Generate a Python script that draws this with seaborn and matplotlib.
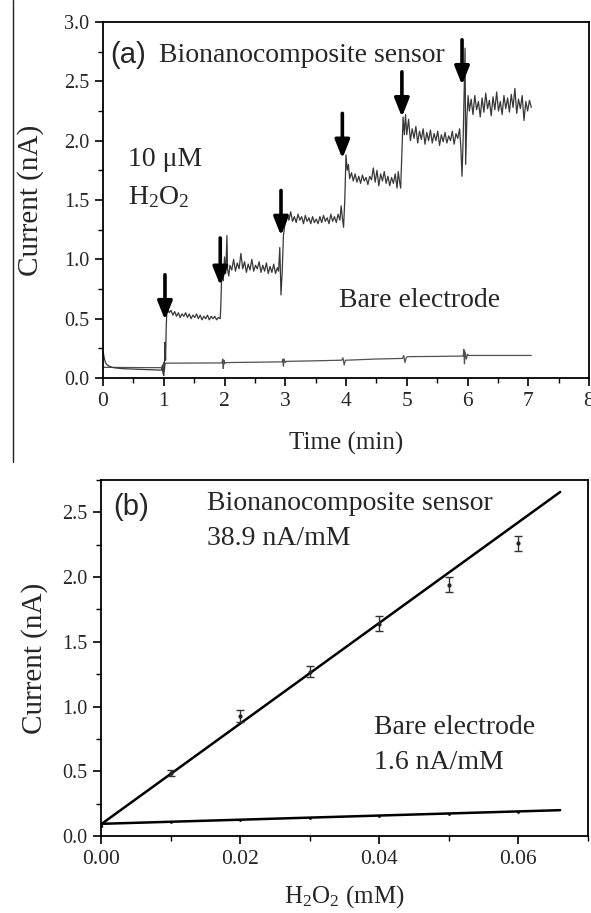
import matplotlib
matplotlib.use("Agg")
import matplotlib.pyplot as plt
import seaborn as sns
import numpy as np
import pandas as pd
from matplotlib.lines import Line2D
from matplotlib.ticker import MultipleLocator

# Estilo
sns.set_theme(style="ticks")
plt.rcParams['font.family'] = 'serif'
plt.rcParams['font.serif'] = ['Liberation Serif', 'DejaVu Serif']
plt.rcParams['mathtext.fontset'] = 'custom'
plt.rcParams['mathtext.rm'] = 'Liberation Serif'
plt.rcParams['mathtext.it'] = 'Liberation Serif:italic'

# ---- datos (a): amperometría ----
sensor_t = [0.00, 0.02, 0.04, 0.07, 0.10, 0.15, 0.20, 0.30, 0.40, 0.50, 0.60, 0.70, 0.80, 0.90, 0.96, 0.98, 0.99, 1.00, 1.01, 1.02, 1.03, 1.04, 1.05, 1.07,
            1.09, 1.12, 1.15, 1.18, 1.21, 1.24, 1.27, 1.30, 1.33, 1.36, 1.39, 1.42, 1.45, 1.48, 1.51, 1.54, 1.57, 1.60, 1.63, 1.66, 1.69, 1.72, 1.75, 1.78, 1.81, 1.84, 1.87, 1.90, 1.93, 1.94, 1.95, 1.97, 1.98, 2.00, 2.02, 2.04, 2.05, 2.07,
            2.09, 2.12, 2.15, 2.18, 2.21, 2.24, 2.27, 2.30, 2.33, 2.36, 2.39, 2.42, 2.45, 2.48, 2.51, 2.54, 2.57, 2.60, 2.63, 2.66, 2.69, 2.72, 2.75, 2.78, 2.81, 2.84, 2.87, 2.89, 2.91, 2.93, 2.95, 2.97, 2.99, 3.01,
            3.03, 3.06, 3.09, 3.12, 3.15, 3.18, 3.21, 3.24, 3.27, 3.30, 3.33, 3.36, 3.39, 3.42, 3.45, 3.48, 3.51, 3.54, 3.57, 3.60, 3.63, 3.66, 3.69, 3.72, 3.75, 3.78, 3.81, 3.84, 3.87, 3.90, 3.92, 3.94, 3.96, 3.98, 4.00, 4.02,
            4.04, 4.06, 4.09, 4.12, 4.15, 4.18, 4.21, 4.24, 4.27, 4.30, 4.33, 4.36, 4.39, 4.42, 4.45, 4.48, 4.51, 4.54, 4.57, 4.60, 4.63, 4.66, 4.69, 4.72, 4.75, 4.78, 4.81, 4.84, 4.86, 4.88, 4.90, 4.92, 4.94, 4.96, 4.98,
            5.00, 5.03, 5.06, 5.09, 5.12, 5.15, 5.18, 5.21, 5.24, 5.27, 5.30, 5.33, 5.36, 5.39, 5.42, 5.45, 5.48, 5.51, 5.54, 5.57, 5.60, 5.63, 5.66, 5.69, 5.72, 5.75, 5.78, 5.81, 5.84, 5.87, 5.89, 5.91, 5.93, 5.95, 5.96, 5.97, 5.99, 6.01,
            6.03, 6.06, 6.09, 6.12, 6.15, 6.18, 6.21, 6.24, 6.27, 6.30, 6.33, 6.36, 6.39, 6.42, 6.45, 6.48, 6.51, 6.54, 6.57, 6.60, 6.63, 6.66, 6.69, 6.72, 6.75, 6.78, 6.81, 6.84, 6.87, 6.90, 6.93, 6.96, 6.99, 7.02, 7.05]
sensor_i = [0.23, 0.17, 0.13, 0.11, 0.10, 0.09, 0.085, 0.08, 0.077, 0.075, 0.073, 0.071, 0.069, 0.067, 0.066, 0.10, 0.04, 0.02, 0.08, 0.30, 0.15, 0.42, 0.55, 0.58,
            0.55, 0.57, 0.53, 0.56, 0.52, 0.55, 0.51, 0.54, 0.52, 0.55, 0.51, 0.54, 0.50, 0.53, 0.51, 0.54, 0.50, 0.53, 0.49, 0.52, 0.50, 0.53, 0.49, 0.52, 0.50, 0.52, 0.49, 0.51, 0.50, 0.62, 0.80, 0.95, 0.82, 1.02, 0.88, 1.20, 0.92, 0.86,
            0.95, 0.91, 1.00, 0.90, 0.97, 0.92, 1.05, 0.92, 0.98, 0.89, 0.96, 0.91, 1.00, 0.90, 0.95, 0.92, 0.98, 0.89, 0.95, 0.90, 0.97, 0.88, 0.94, 0.89, 0.96, 0.88, 0.93, 0.90, 1.10, 0.70, 0.90, 1.20, 1.28, 1.32,
            1.38, 1.33, 1.40, 1.32, 1.36, 1.31, 1.38, 1.33, 1.36, 1.30, 1.37, 1.32, 1.35, 1.30, 1.36, 1.31, 1.34, 1.30, 1.36, 1.31, 1.37, 1.32, 1.35, 1.30, 1.38, 1.32, 1.36, 1.31, 1.38, 1.33, 1.45, 1.35, 1.27, 1.50, 1.88, 1.75,
            1.80, 1.68, 1.73, 1.66, 1.72, 1.65, 1.70, 1.64, 1.71, 1.66, 1.69, 1.63, 1.70, 1.67, 1.77, 1.65, 1.75, 1.62, 1.72, 1.66, 1.74, 1.64, 1.70, 1.62, 1.69, 1.64, 1.72, 1.60, 1.74, 1.66, 1.60, 1.90, 2.20, 2.05, 2.22,
            2.05, 2.18, 2.00, 2.10, 2.02, 2.12, 1.98, 2.08, 2.01, 2.10, 1.97, 2.07, 2.00, 2.09, 1.98, 2.06, 2.00, 2.08, 1.96, 2.05, 1.99, 2.07, 1.98, 2.04, 2.00, 2.08, 1.97, 2.06, 2.02, 2.10, 1.95, 1.70, 2.05, 2.55, 2.78, 1.80, 2.20, 2.38,
            2.25, 2.35, 2.22, 2.38, 2.26, 2.33, 2.20, 2.36, 2.24, 2.40, 2.27, 2.34, 2.21, 2.37, 2.26, 2.41, 2.25, 2.33, 2.22, 2.38, 2.27, 2.36, 2.24, 2.39, 2.28, 2.44, 2.23, 2.35, 2.27, 2.38, 2.17, 2.33, 2.25, 2.34, 2.28]

bare_t = [0.00, 0.50, 0.97, 0.98, 0.99, 1.00, 1.01, 1.02, 1.04, 1.50, 1.96, 1.97, 1.98, 1.99, 2.00, 2.02, 2.50, 2.95, 2.96, 2.97, 2.98, 3.00, 3.02,
          3.50, 3.93, 3.95, 3.97, 3.99, 4.01, 4.50, 4.93, 4.95, 4.97, 4.99, 5.01, 5.50, 5.93, 5.94, 5.95, 5.96, 5.98, 6.00, 6.02, 6.50, 7.05]
bare_i = [0.09, 0.088, 0.087, 0.11, 0.05, 0.13, 0.06, 0.12, 0.125, 0.126, 0.127, 0.16, 0.08, 0.15, 0.12, 0.13, 0.133, 0.136, 0.16, 0.10, 0.16, 0.13, 0.14,
          0.145, 0.15, 0.17, 0.11, 0.15, 0.15, 0.16, 0.165, 0.19, 0.13, 0.17, 0.18, 0.182, 0.185, 0.24, 0.12, 0.22, 0.16, 0.20, 0.19, 0.19, 0.19]

# adiciones de H2O2 (flechas)
arrow_t = [1.02, 1.93, 2.93, 3.94, 4.92, 5.91]
arrow_tail = [0.87, 1.18, 1.58, 2.23, 2.58, 2.85]
arrow_tip = [0.49, 0.78, 1.20, 1.85, 2.20, 2.47]

# ---- datos (b): calibración ----
conc = [0.01, 0.02, 0.03, 0.04, 0.05, 0.06]
resp_sensor = [0.49, 0.925, 1.27, 1.64, 1.94, 2.26]
err_sensor = [0.023, 0.045, 0.04, 0.06, 0.058, 0.06]
resp_bare = [0.11, 0.125, 0.14, 0.155, 0.17, 0.185]
slope_sensor, icpt_sensor = 38.9, 0.09
slope_bare, icpt_bare = 1.6, 0.094
fit_range = [0.0, 0.066]

df_sensor = pd.DataFrame({'t': sensor_t, 'i': sensor_i})
df_bare = pd.DataFrame({'t': bare_t, 'i': bare_i})

W, H = 591, 913
fig = plt.figure(figsize=(W / 100, H / 100), dpi=100)
ax_a = fig.add_axes([103 / W, 1 - 378 / H, (589 - 103) / W, (378 - 22) / H])
ax_b = fig.add_axes([101 / W, 1 - 836 / H, (588 - 101) / W, (836 - 480) / H])

for ax in (ax_a, ax_b):
    for s in ax.spines.values():
        s.set_linewidth(1.3)
        s.set_color('black')
    ax.tick_params(which='major', direction='out', length=6, width=1.2, color='black', pad=4)
    ax.tick_params(which='minor', direction='out', length=3.5, width=1.0, color='black')
    ax.tick_params(axis='y', labelsize=14.5)
    ax.tick_params(axis='x', labelsize=15.5)
    ax.grid(False)

# (a)
sns.lineplot(data=df_bare, x='t', y='i', ax=ax_a, color='#505050', lw=0.9, estimator=None, sort=False)
sns.lineplot(data=df_sensor, x='t', y='i', ax=ax_a, color='#383838', lw=0.9, estimator=None, sort=False)
for t, y0, y1 in zip(arrow_t, arrow_tail, arrow_tip):
    ax_a.annotate('', xy=(t, y1), xytext=(t, y0),
                  arrowprops=dict(arrowstyle='-|>,head_length=0.55,head_width=0.22', color='black',
                                  lw=2.6, shrinkA=0, shrinkB=0, mutation_scale=20))
ax_a.set_xlim(0, 8)
ax_a.set_ylim(0, 3)
ax_a.xaxis.set_major_locator(MultipleLocator(1))
ax_a.xaxis.set_minor_locator(MultipleLocator(0.5))
ax_a.yaxis.set_major_locator(MultipleLocator(0.5))
ax_a.yaxis.set_minor_locator(MultipleLocator(0.25))
ax_a.yaxis.set_major_formatter(plt.FormatStrFormatter('%.1f'))
ax_a.set_xlabel('Time (min)', fontsize=18, labelpad=15)
ax_a.set_ylabel('Current (nA)', fontsize=21, labelpad=14)
ax_a.text(0.12, 2.72, '(a)', family='Liberation Sans', fontsize=21, va='center', ha='left')
ax_a.text(0.93, 2.72, 'Bionanocomposite sensor', fontsize=20, va='center', ha='left')
ax_a.text(0.41, 1.84, '10 μM', fontsize=20, va='center', ha='left')
ax_a.text(0.41, 1.52, 'H$_2$O$_2$', fontsize=20, va='center', ha='left')
ax_a.text(3.89, 0.65, 'Bare electrode', fontsize=20, va='center', ha='left')

# (b)
x_fit = np.array(fit_range)
df_fit = pd.DataFrame({'x': np.concatenate([x_fit, x_fit]),
                       'y': np.concatenate([icpt_sensor + slope_sensor * x_fit, icpt_bare + slope_bare * x_fit]),
                       'serie': ['sensor'] * 2 + ['bare'] * 2})
sns.lineplot(data=df_fit, x='x', y='y', units='serie', estimator=None, ax=ax_b, color='black', lw=1.8)
ax_b.errorbar(conc, resp_sensor, yerr=err_sensor, fmt='o', ms=2, color='#222222', ecolor='#333333',
              elinewidth=1.0, capsize=3, capthick=1.0)
sns.scatterplot(x=conc, y=resp_bare, ax=ax_b, color='black', s=4, linewidth=0)
sns.scatterplot(x=[0.0], y=[icpt_sensor - 0.01], ax=ax_b, color='black', s=6, linewidth=0)
ax_b.set_xlim(0, 0.07)
ax_b.set_ylim(0, 2.75)
ax_b.xaxis.set_major_locator(MultipleLocator(0.02))
ax_b.xaxis.set_minor_locator(MultipleLocator(0.01))
ax_b.yaxis.set_major_locator(MultipleLocator(0.5))
ax_b.yaxis.set_minor_locator(MultipleLocator(0.25))
ax_b.xaxis.set_major_formatter(plt.FormatStrFormatter('%.2f'))
ax_b.yaxis.set_major_formatter(plt.FormatStrFormatter('%.1f'))
ax_b.set_xlabel('H$_2$O$_2$ (mM)', fontsize=18, labelpad=10)
ax_b.set_ylabel('Current (nA)', fontsize=21, labelpad=10)
ax_b.text(0.0017, 2.54, '(b)', family='Liberation Sans', fontsize=21, va='center', ha='left')
ax_b.text(0.0153, 2.57, 'Bionanocomposite sensor', fontsize=20, va='center', ha='left')
ax_b.text(0.0153, 2.30, '38.9 nA/mM', fontsize=20, va='center', ha='left')
ax_b.text(0.0392, 0.84, 'Bare electrode', fontsize=20, va='center', ha='left')
ax_b.text(0.0392, 0.57, '1.6 nA/mM', fontsize=20, va='center', ha='left')

# línea vertical suelta a la izquierda (presente en la figura original)
fig.add_artist(Line2D([13 / W, 13 / W], [1.0, 1 - 462 / H], transform=fig.transFigure, color='#222222', lw=1.0))

fig.savefig('out.png', dpi=100)
